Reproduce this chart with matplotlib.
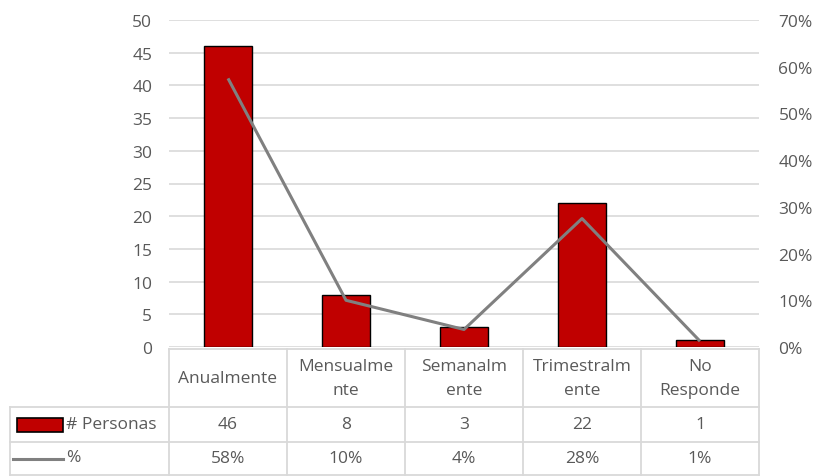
import math
import matplotlib
matplotlib.use("Agg")
import matplotlib.pyplot as plt
from matplotlib.patches import Rectangle
from matplotlib.lines import Line2D
from matplotlib.transforms import blended_transform_factory

categories = ["Anualmente", "Mensualme\nnte", "Semanalm\nente", "Trimestralm\nente", "No\nResponde"]
personas = [46, 8, 3, 22, 1]
pct = [57.5, 10.0, 3.75, 27.5, 1.25]
left_ticks = list(range(0, 55, 5))
right_ticks = list(range(0, 80, 10))
series_names = ["# Personas", "%"]

BAR = "#C00000"
LINE = "#808080"
GRID = "#D9D9D9"
TXT = "#595959"
FONT = ["Open Sans", "DejaVu Sans"]
FS = 12.5

plt.rcParams["font.family"] = FONT

W, H = 820, 477
fig = plt.figure(figsize=(W / 100, H / 100), dpi=100)
ax_l, ax_r, ax_t, ax_b = 169, 759, 21, 348
ax = fig.add_axes([ax_l / W, 1 - ax_b / H, (ax_r - ax_l) / W, (ax_b - ax_t) / H])
ax2 = ax.twinx()

x = list(range(len(categories)))
ax.bar(x, personas, width=0.4, color=BAR, edgecolor="black", linewidth=1.0, zorder=3)
ax.set_xlim(-0.5, len(categories) - 0.5)
ax.set_ylim(0, 50)
ax.set_yticks(left_ticks)
ax.grid(axis="y", color=GRID, linewidth=1.2, zorder=0)
ax.set_axisbelow(True)
ax.set_xticks([])

ax2.plot(x, [p / 100 for p in pct], color=LINE, linewidth=2.2, zorder=4, solid_capstyle="butt")
ax2.set_ylim(0, 0.7)
ax2.set_yticks([t / 100 for t in right_ticks])
ax2.set_yticklabels([f"{t}%" for t in right_ticks])

for a in (ax, ax2):
    for s in a.spines.values():
        s.set_visible(False)
ax.tick_params(axis="y", length=0, pad=12, labelsize=FS, labelcolor=TXT)
ax2.tick_params(axis="y", length=0, pad=14, labelsize=FS, labelcolor=TXT)
for lbl in ax2.get_yticklabels():
    lbl.set_horizontalalignment("left")

# ---- data table below the plot ----
hpx = ax_b - ax_t
wpx = ax_r - ax_l
def ay(py):
    return (ax_b - py) / hpx
def axx(px):
    return (px - ax_l) / wpx

blend = blended_transform_factory(ax.transData, ax.transAxes)
rows_y = [ay(350), ay(408), ay(443), ay(476)]
n = len(categories)
lw_t = 1.3
for yv in rows_y:
    ax.add_line(Line2D([-0.5, n - 0.5], [yv, yv], transform=blend, color=GRID, lw=lw_t, clip_on=False))
for yv in rows_y[1:]:
    ax.add_line(Line2D([axx(10), 0], [yv, yv], transform=ax.transAxes, color=GRID, lw=lw_t, clip_on=False))
for i in range(n + 1):
    ax.add_line(Line2D([i - 0.5, i - 0.5], [rows_y[0], rows_y[-1]], transform=blend, color=GRID, lw=lw_t, clip_on=False))
ax.add_line(Line2D([axx(10), axx(10)], [rows_y[1], rows_y[-1]], transform=ax.transAxes, color=GRID, lw=lw_t, clip_on=False))

hdr_y = (rows_y[0] + rows_y[1]) / 2
r1_y = (rows_y[1] + rows_y[2]) / 2
r2_y = (rows_y[2] + rows_y[3]) / 2
for i, c in enumerate(categories):
    ax.text(i, hdr_y, c, transform=blend, ha="center", va="center", fontsize=FS,
            color=TXT, linespacing=1.6)
    ax.text(i, r1_y, str(personas[i]), transform=blend, ha="center", va="center", fontsize=FS, color=TXT)
    ax.text(i, r2_y, f"{math.floor(pct[i] + 0.5)}%", transform=blend, ha="center", va="center",
            fontsize=FS, color=TXT)

ax.add_patch(Rectangle((axx(17), ay(433)), axx(63) - axx(17), ay(419) - ay(433), transform=ax.transAxes,
                       facecolor=BAR, edgecolor="black", lw=1.2, clip_on=False))
ax.text(axx(66), r1_y, series_names[0], transform=ax.transAxes, ha="left", va="center", fontsize=FS, color=TXT)
ax.add_line(Line2D([axx(13), axx(63)], [ay(460), ay(460)], transform=ax.transAxes, color=LINE, lw=2.2,
                   clip_on=False))
ax.text(axx(66), ay(458), series_names[1], transform=ax.transAxes, ha="left", va="center", fontsize=FS, color=TXT)

fig.savefig("out.png", dpi=100, facecolor="white")
